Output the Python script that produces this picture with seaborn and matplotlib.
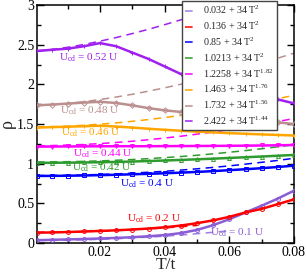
import numpy as np
import pandas as pd
import matplotlib
matplotlib.use("Agg")
import matplotlib.pyplot as plt
import seaborn as sns
from matplotlib.ticker import MultipleLocator

# ---------------- data ----------------
T = [0.0005, 0.005, 0.01, 0.015, 0.02, 0.025, 0.03, 0.035, 0.04,
     0.045, 0.05, 0.055, 0.06, 0.065, 0.07, 0.075, 0.08]

rho_010 = [0.035, 0.040, 0.045, 0.050, 0.057, 0.064, 0.073, 0.085, 0.100,
           0.125, 0.165, 0.225, 0.300, 0.385, 0.470, 0.560, 0.660]
rho_020 = [0.130, 0.133, 0.138, 0.145, 0.152, 0.160, 0.170, 0.182, 0.198,
           0.220, 0.250, 0.285, 0.330, 0.385, 0.430, 0.490, 0.550]
rho_040 = [0.845, 0.846, 0.848, 0.851, 0.855, 0.860, 0.866, 0.872, 0.879,
           0.887, 0.896, 0.906, 0.918, 0.930, 0.943, 0.958, 0.975]
rho_042 = [1.010, 1.011, 1.013, 1.015, 1.018, 1.022, 1.027, 1.033, 1.040,
           1.047, 1.055, 1.063, 1.072, 1.081, 1.090, 1.100, 1.110]
rho_044 = [1.215, 1.216, 1.217, 1.218, 1.219, 1.220, 1.220, 1.220, 1.221,
           1.222, 1.223, 1.224, 1.225, 1.227, 1.229, 1.232, 1.235]
rho_046 = [1.455, 1.460, 1.466, 1.472, 1.478, 1.468, 1.455, 1.440, 1.427,
           1.415, 1.404, 1.394, 1.385, 1.377, 1.369, 1.362, 1.355]
rho_048 = [1.735, 1.745, 1.757, 1.770, 1.780, 1.765, 1.735, 1.700, 1.672,
           1.652, 1.632, 1.610, 1.588, 1.565, 1.543, 1.520, 1.500]
rho_052 = [2.420, 2.435, 2.450, 2.480, 2.520, 2.480, 2.400, 2.320, 2.225,
           2.130, 2.075, 2.020, 1.970, 1.915, 1.865, 1.810, 1.760]

# dashed fit curves
fit_010 = [0.032, 0.033, 0.035, 0.040, 0.046, 0.053, 0.063, 0.074, 0.086,
           0.101, 0.117, 0.135, 0.154]
fit_020 = [0.136, 0.137, 0.139, 0.144, 0.150, 0.157, 0.167, 0.178, 0.190,
           0.205, 0.221]
fit_040 = [0.850, 0.851, 0.853, 0.858, 0.864, 0.871, 0.881, 0.892, 0.904,
           0.919, 0.935, 0.953, 0.972, 0.994, 1.017, 1.041, 1.068]
fit_042 = [1.021, 1.022, 1.025, 1.029, 1.035, 1.043, 1.052, 1.063, 1.076,
           1.090, 1.106, 1.124, 1.144, 1.165, 1.188, 1.213, 1.239]
fit_044 = [1.226, 1.228, 1.234, 1.242, 1.253, 1.267, 1.283, 1.302, 1.323,
           1.346, 1.372, 1.399, 1.429, 1.461, 1.495, 1.531, 1.569]
fit_046 = [1.463, 1.466, 1.473, 1.484, 1.498, 1.514, 1.534, 1.556, 1.581,
           1.608, 1.638, 1.669, 1.703, 1.740, 1.779, 1.819, 1.862]
fit_048 = [1.732, 1.741, 1.758, 1.781, 1.808, 1.840, 1.875, 1.914, 1.956,
           2.001, 2.050, 2.101, 2.154, 2.210, 2.269, 2.330, 2.393]
fit_052 = [2.422, 2.439, 2.467, 2.502, 2.544, 2.590, 2.640, 2.694, 2.752,
           2.813, 2.877, 2.944, 3.014]

fit_labels = ["0.032 + 34 T$^{2}$", "0.136 + 34 T$^{2}$", "0.85 + 34 T$^{2}$",
              "1.0213 + 34 T$^{2}$", "1.2258 + 34 T$^{1.82}$",
              "1.463 + 34 T$^{1.76}$", "1.732 + 34 T$^{1.56}$",
              "2.422 + 34 T$^{1.44}$"]
curve_labels = ["0.1", "0.2", "0.4", "0.42", "0.44", "0.46", "0.48", "0.52"]

data_series = [rho_010, rho_020, rho_040, rho_042, rho_044, rho_046, rho_048, rho_052]
fit_series = [fit_010, fit_020, fit_040, fit_042, fit_044, fit_046, fit_048, fit_052]

# ---------------- style ----------------
colors = ["#8a5cd6", "#ff0000", "#0000ff", "#2e9b2e", "#ff00ff",
          "#ffa500", "#bc8f8f", "#a020f0"]
fit_colors = ["#9f7fdf", "#ff0000", "#0000ff", "#2e9b2e", "#ff00ff",
              "#ffa500", "#bc8f8f", "#a020f0"]
markers = ["o", "o", "s", "^", "v", "+", "D", "+"]
# label anchor (baseline of the "U")
label_pos = [(0.0540, 0.100), (0.0282, 0.275), (0.0262, 0.713), (0.0113, 0.918),
             (0.0117, 1.095), (0.0080, 1.360), (0.0075, 1.633), (0.0073, 2.301)]

sns.set_style("ticks")
plt.rcParams["font.family"] = ["Liberation Serif", "DejaVu Serif"]
plt.rcParams["mathtext.fontset"] = "custom"
plt.rcParams["mathtext.rm"] = "Liberation Serif"
plt.rcParams["mathtext.it"] = "Liberation Serif:italic"

fig = plt.figure(figsize=(3.07, 2.73), dpi=100)
ax = fig.add_axes([37 / 307, 30 / 273, 257 / 307, 238 / 273])

fit_handles = []
for i, (fit, lab) in enumerate(zip(fit_series, fit_labels)):
    df = pd.DataFrame({"T": T[:len(fit)], "rho": fit})
    sns.lineplot(data=df, x="T", y="rho", ax=ax, color=fit_colors[i],
                 lw=1.1, linestyle=(0, (5, 3.5)), label=lab, zorder=2)
    fit_handles.append(ax.get_lines()[-1])

for i, rho in enumerate(data_series):
    df = pd.DataFrame({"T": T, "rho": rho})
    mk = markers[i]
    kw = dict(marker=mk, markersize=2.8, markeredgewidth=0.7)
    if mk not in ("+", "x"):
        kw["markerfacecolor"] = "none"
    kw["markeredgecolor"] = colors[i]
    sns.lineplot(data=df, x="T", y="rho", ax=ax, color=colors[i], lw=1.8,
                 label="_nolegend_", zorder=3, **kw)

for i, lab in enumerate(curve_labels):
    x, y = label_pos[i]
    ax.text(x, y, "U$_{\\rm cd}$ = " + lab + " U", color=colors[i],
            fontsize=8, va="baseline", ha="left", zorder=4)

ax.set_xlim(0.0005, 0.08)
ax.set_ylim(0, 3)
ax.xaxis.set_minor_locator(MultipleLocator(0.01))
ax.yaxis.set_minor_locator(MultipleLocator(0.25))
ax.set_xticks([0.02, 0.04, 0.06, 0.08])
ax.set_xticklabels(["0.02", "0.04", "0.06", "0.08"])
ax.set_yticks([0, 0.5, 1, 1.5, 2, 2.5, 3])
ax.set_yticklabels(["0", "0.5", "1", "1.5", "2", "2.5", "3"])
ax.tick_params(which="both", direction="in", top=True, right=True,
               labelsize=10, width=1, pad=2, colors="black")
ax.tick_params(which="major", length=5)
ax.tick_params(which="minor", length=3)
for sp in ax.spines.values():
    sp.set_linewidth(1.1)
    sp.set_color("black")

ax.set_xlabel("T/t", fontsize=12.5, labelpad=-1)
ax.set_ylabel("ρ", fontsize=13, labelpad=1)

leg = ax.legend(handles=fit_handles, labels=fit_labels, loc="upper left",
                bbox_to_anchor=(0.564, 1.017), fontsize=7.2, frameon=True,
                fancybox=False, edgecolor="#444444", framealpha=1,
                borderpad=0.3, labelspacing=0.34, handlelength=1.3,
                handletextpad=0.5, borderaxespad=0)
leg.get_frame().set_linewidth(1.0)
leg.set_zorder(10)

fig.savefig("out.png", dpi=100)
